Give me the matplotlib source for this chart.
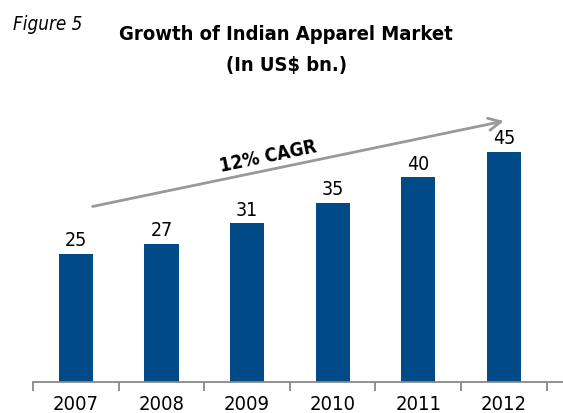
import matplotlib.pyplot as plt
import numpy as np

years = ["2007", "2008", "2009", "2010", "2011", "2012"]
market_size = [25, 27, 31, 35, 40, 45]

BAR_COLOR = "#004b87"

plt.rcParams["font.family"] = ["DejaVu Sans"]
plt.rcParams["font.stretch"] = "condensed"

fig = plt.figure(figsize=(5.63, 4.14), dpi=100)
ax = fig.add_axes([33 / 563, 31 / 414, 530 / 563, 307 / 414])

x = np.arange(len(years))
bars = ax.bar(x, market_size, width=0.4, color=BAR_COLOR, zorder=2)

for xi, v in zip(x, market_size):
    ax.text(xi, v + 0.9, str(v), ha="center", va="bottom", fontsize=14)

ax.set_xlim(-0.5, 5.69)
ax.set_ylim(0, 60)
ax.set_xticks(x)
ax.set_xticklabels(years, fontsize=14.5)
ax.set_xticks(np.arange(-0.5, 6, 1), minor=True)
ax.tick_params(axis="x", which="major", length=0, pad=9)
ax.tick_params(axis="x", which="minor", length=6.5, width=1.3, color="#888888")
ax.set_yticks([])
for side in ["top", "right", "left"]:
    ax.spines[side].set_visible(False)
ax.spines["bottom"].set_color("#888888")
ax.spines["bottom"].set_linewidth(1.3)

# CAGR arrow
ax.annotate("", xy=(5.03, 51.1), xytext=(0.165, 34.2),
            arrowprops=dict(arrowstyle="->", color="#999999", lw=2,
                            mutation_scale=22))
ax.text(2.25, 44.2, "12% CAGR", rotation=11.7, ha="center", va="center",
        fontsize=13.5, fontweight="bold", rotation_mode="anchor")

fig.text(286 / 563, 1 - 35 / 414, "Growth of Indian Apparel Market",
         ha="center", va="center", fontsize=14.5, fontweight="bold")
fig.text(286 / 563, 1 - 66 / 414, "(In US$ bn.)",
         ha="center", va="center", fontsize=14.5, fontweight="bold")
fig.text(13 / 563, 1 - 24 / 414, "Figure 5", ha="left", va="center",
         fontsize=13.5, style="italic")

fig.savefig("out.png", dpi=100)
